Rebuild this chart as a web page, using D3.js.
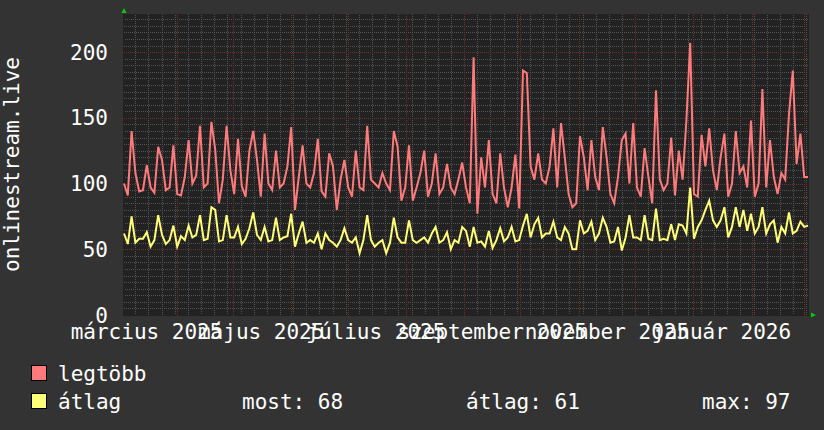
<!DOCTYPE html>
<html>
<head>
<meta charset="utf-8">
<script src="https://cdn.jsdelivr.net/npm/d3@7"></script>
<style>
body { margin: 0; background: #333333; }
svg text { font-family: "DejaVu Sans Mono", monospace; font-size: 21px; fill: #ffffff; }
</style>
</head>
<body>
<div id="chart"></div>
<script>
// series, one value about every two days
const maxValues = [
    100, 91, 140, 108, 94, 95, 114, 97, 93, 128, 118, 95, 97, 129, 92, 91, 105, 133, 100, 106,
    144, 97, 100, 147, 126, 85, 103, 144, 110, 92, 134, 98, 90, 125, 140, 118, 90, 138, 100, 95,
    125, 97, 100, 113, 143,
    80, 105, 129, 100, 97, 108, 134, 94, 90, 123, 113, 80, 103, 118, 97, 90, 125, 97, 95, 144,
    103, 100, 97, 108, 100, 95, 140, 128, 87, 97, 129, 87, 97, 108, 125, 90, 100, 123, 92, 97,
    115, 97, 92, 103, 116,
    97, 85, 196, 77, 120, 97, 133, 92, 85, 123, 97, 82, 97, 122, 81, 186, 184, 113, 103, 123,
    103, 100, 113, 142, 97, 146, 120, 92, 82, 85, 136, 120, 95, 133, 105, 95, 143, 120, 92, 85,
    105, 133, 138, 100, 146,
    97, 90, 127, 105, 85, 171, 103, 95, 100, 135, 91, 125, 103, 148, 207, 92, 90, 137, 113, 142,
    110, 95, 120, 138, 90, 100, 140, 108, 113, 97, 148, 90, 100, 172, 97, 133, 105, 92, 108, 103,
    153, 186, 115, 138, 105, 105
];
const avgValues = [
    62, 54, 75, 55, 58, 58, 63, 52, 57, 76, 61, 54, 57, 68, 52, 60, 57, 68, 59, 61,
    76, 57, 58, 82, 80, 56, 57, 76, 59, 59, 67, 54, 58, 66, 78, 61, 57, 67, 56, 57,
    74, 57, 59, 60, 77,
    52, 62, 71, 55, 57, 55, 62, 50, 62, 57, 55, 52, 57, 66, 57, 55, 59, 47, 57, 76,
    57, 52, 55, 57, 47, 55, 74, 59, 55, 55, 72, 57, 55, 57, 59, 55, 62, 67, 55, 57,
    63, 50, 57, 55, 67,
    64, 52, 67, 55, 56, 52, 64, 51, 57, 66, 56, 59, 67, 56, 57, 68, 77, 59, 69, 74,
    59, 62, 62, 71, 59, 57, 67, 62, 50, 50, 72, 62, 64, 71, 57, 62, 74, 67, 55, 56,
    67, 49, 59, 76, 59,
    59, 57, 76, 58, 57, 81, 57, 58, 57, 69, 57, 69, 68, 62, 97, 58, 67, 72, 80, 87,
    72, 67, 72, 82, 59, 67, 82, 67, 80, 64, 77, 62, 67, 82, 62, 69, 72, 55, 67, 62,
    78, 62, 64, 71, 67, 68
];

const seriesNames = ["legtöbb", "átlag"];
const seriesColors = ["#ff7a7a", "#ffff78"];

const startDate = new Date(Date.UTC(2025, 2, 4)),
      endDate = new Date(Date.UTC(2026, 2, 3));

// month labels, every second month
const labelMonths = [
    new Date(Date.UTC(2025, 2, 1)),
    new Date(Date.UTC(2025, 4, 1)),
    new Date(Date.UTC(2025, 6, 1)),
    new Date(Date.UTC(2025, 8, 1)),
    new Date(Date.UTC(2025, 10, 1)),
    new Date(Date.UTC(2026, 0, 1))
];
const labelTexts = ["március 2025", "május 2025", "július 2025", "szeptember 2025", "november 2025", "január 2026"];

const yTicks = [0, 50, 100, 150, 200];
const yTitle = "onlinestream.live";
const legendStats = ["most: 68", "átlag: 61", "max: 97"];

let width = 824,
    height = 430,
    plot = {left: 124, right: 808, top: 14, bottom: 315},
    minorGrid = "#545454",
    majorGrid = "#6e3030";

let svg = d3.select("#chart")
    .append("svg")
    .attr("width", width)
    .attr("height", height);

// dotted grid: a 2x2 checker pattern used as fill of 1px wide rects
let defs = svg.append("defs");
[["dotMinor", minorGrid], ["dotMajor", majorGrid]].forEach(function([id, color]) {
    let pat = defs.append("pattern")
        .attr("id", id)
        .attr("patternUnits", "userSpaceOnUse")
        .attr("width", 2)
        .attr("height", 2);
    pat.append("rect").attr("x", 0).attr("y", 0).attr("width", 1).attr("height", 1).attr("fill", color);
    pat.append("rect").attr("x", 1).attr("y", 1).attr("width", 1).attr("height", 1).attr("fill", color);
});

svg.append("rect")
    .attr("width", width)
    .attr("height", height)
    .attr("fill", "#333333");

let x = d3.scaleUtc()
    .domain([startDate, endDate])
    .range([plot.left, plot.right]);

let y = d3.scaleLinear()
    .domain([0, 229])
    .range([plot.bottom, plot.top]);

// canvas
svg.append("rect")
    .attr("x", plot.left - 1)
    .attr("y", plot.top)
    .attr("width", plot.right - plot.left + 2)
    .attr("height", plot.bottom - plot.top + 1)
    .attr("fill", "#222222");

let grid = svg.append("g")
    .attr("shape-rendering", "crispEdges");

function hLines(values, fill, x0) {
    grid.append("g")
        .selectAll("rect")
        .data(values)
        .join("rect")
        .attr("x", x0)
        .attr("y", d => Math.round(y(d)))
        .attr("width", plot.right - x0)
        .attr("height", 1)
        .attr("fill", fill);
}

function vLines(dates, fill, y1) {
    grid.append("g")
        .selectAll("rect")
        .data(dates)
        .join("rect")
        .attr("x", d => Math.round(x(d)))
        .attr("y", plot.top)
        .attr("width", 1)
        .attr("height", y1 - plot.top)
        .attr("fill", fill);
}

// minor grid: every 5 units, weekly on mondays
hLines(d3.range(5, 229, 5).filter(v => v % 50 !== 0), "url(#dotMinor)", plot.left);
vLines(d3.utcMonday.range(startDate, endDate), "url(#dotMinor)", plot.bottom);

// major grid: every 50 units, monthly
hLines(yTicks.filter(v => v > 0), "url(#dotMajor)", plot.left - 3);
vLines(d3.utcMonth.range(d3.utcMonth.ceil(startDate), endDate), "url(#dotMajor)", plot.bottom + 2);

// series lines, evenly spaced over the year
let step = (endDate - startDate) / (maxValues.length - 1);
let toPoints = values => values.map((v, i) => ({date: new Date(+startDate + i * step), v: v}));

let line = d3.line()
    .x(d => x(d.date))
    .y(d => y(d.v));

[maxValues, avgValues].forEach(function(values, i) {
    svg.append("path")
        .datum(toPoints(values))
        .attr("d", line)
        .attr("fill", "none")
        .attr("stroke", seriesColors[i])
        .attr("stroke-width", 2);
});

// y axis labels
svg.selectAll("text.ylab")
    .data(yTicks)
    .join("text")
    .attr("x", 108)
    .attr("y", d => y(d) + 7.5)
    .attr("text-anchor", "end")
    .text(d => d);

// x axis labels, centred half a month after the tick
svg.selectAll("text.xlab")
    .data(labelMonths)
    .join("text")
    .attr("x", d => x(d3.utcDay.offset(d, 15)))
    .attr("y", 339)
    .attr("text-anchor", "middle")
    .text((d, i) => labelTexts[i]);

svg.append("text")
    .attr("transform", `translate(19, ${(plot.top + plot.bottom) / 2}) rotate(-90)`)
    .attr("text-anchor", "middle")
    .text(yTitle);

// axis arrows
svg.append("path")
    .attr("d", `M${plot.left - 2.5},13 L${plot.left + 2.5},13 L${plot.left},8 Z`)
    .attr("fill", "#00cc00");
svg.append("path")
    .attr("d", `M811,312.5 L811,317.5 L816,315 Z`)
    .attr("fill", "#00cc00");

// legend
let legend = svg.selectAll("g.legend")
    .data(seriesNames)
    .join("g")
    .attr("transform", (d, i) => `translate(0, ${i * 28})`);

legend.append("rect")
    .attr("x", 31.5)
    .attr("y", 365.5)
    .attr("width", 15)
    .attr("height", 15)
    .attr("fill", (d, i) => seriesColors[i])
    .attr("stroke", "#000000");

legend.append("text")
    .attr("x", 58)
    .attr("y", 381)
    .text(d => d);

svg.selectAll("text.stat")
    .data(legendStats)
    .join("text")
    .attr("x", (d, i) => [242, 466, 702][i])
    .attr("y", 409)
    .text(d => d);
</script>
</body>
</html>
